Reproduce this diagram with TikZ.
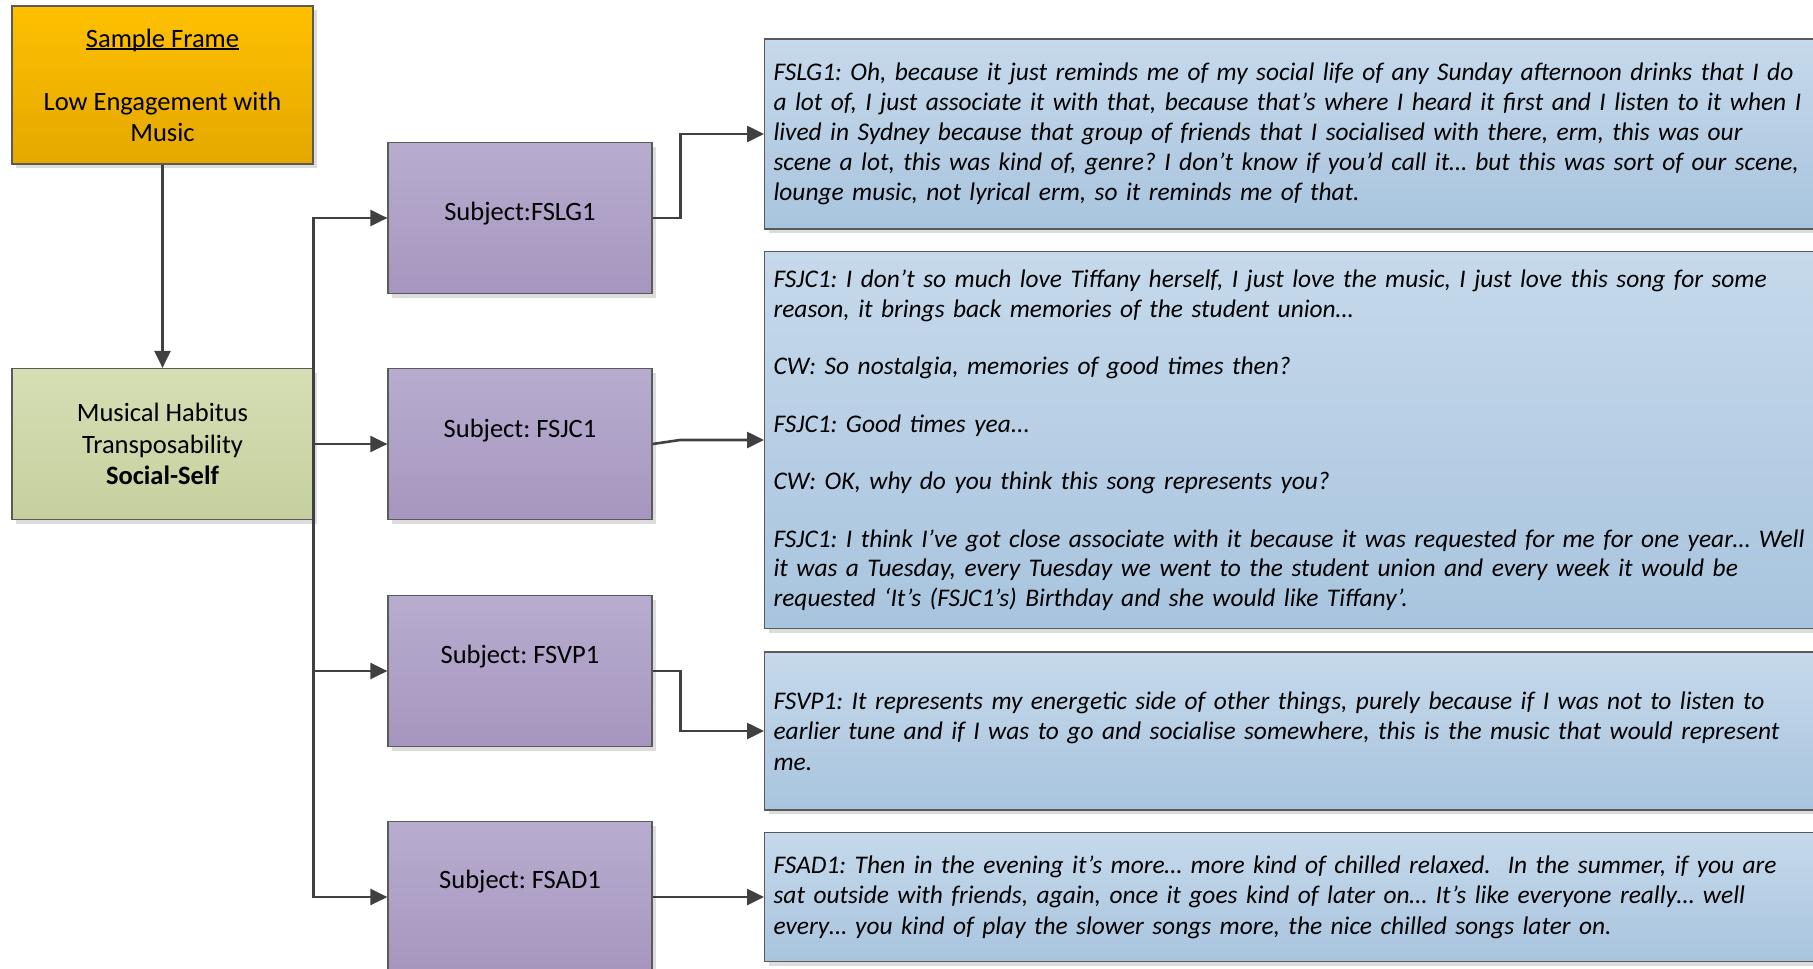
\documentclass[tikz,border=0pt]{standalone}
\usepackage{fontspec}
\setmainfont{Carlito}
\usetikzlibrary{arrows.meta,shadows}
\frenchspacing

\definecolor{boxline}{HTML}{5A5A5A}
\definecolor{shadowgray}{HTML}{DCDCDC}
\definecolor{connc}{HTML}{404040}
\definecolor{orangeT}{HTML}{FFC000}
\definecolor{orangeB}{HTML}{E4A800}
\definecolor{greenT}{HTML}{D6DEB4}
\definecolor{greenB}{HTML}{C5D09E}
\definecolor{purpleT}{HTML}{B8ACCF}
\definecolor{purpleB}{HTML}{A696BF}
\definecolor{blueT}{HTML}{C6D9EB}
\definecolor{blueB}{HTML}{A8C4DE}

\newcommand\lblfont{\fontsize{26.5}{31}\selectfont}
% italic quote text; the argument is the line spacing
\newcommand\qfont[1]{\fontsize{25.4}{#1}\selectfont\itshape}
% underline that sits just under the baseline
\newcommand\ulabel[1]{\setbox0\hbox{#1}\rlap{\rule[-2.8pt]{\wd0}{1.5pt}}\box0}

\tikzset{
  box/.style={draw=boxline, line width=1.2pt, inner sep=0pt,
    drop shadow={shadow xshift=4pt, shadow yshift=-4pt, fill=shadowgray, opacity=1}},
  framebox/.style={box, top color=orangeT, bottom color=orangeB,
    minimum width=301, minimum height=158, align=center, font=\lblfont},
  habbox/.style={box, top color=greenT, bottom color=greenB,
    minimum width=301, minimum height=151, align=center,
    font=\fontsize{26.5}{31.5}\selectfont},
  subjbox/.style={box, top color=purpleT, bottom color=purpleB,
    minimum width=264, minimum height=151},
  subjtext/.style={anchor=base, inner sep=0pt, font=\lblfont},
  quotebox/.style={box, top color=blueT, bottom color=blueB, anchor=west,
    minimum width=1076, inner xsep=9pt, text width=1058, align=left,
    font=\qfont{29.5}},
  conn/.style={draw=connc, line width=2.6pt,
    -{Triangle[length=17pt,width=16pt]}},
}

\begin{document}
\begin{tikzpicture}[x=1pt,y=-1pt]
\useasboundingbox (0,0) rectangle (1813,969);

% left column
\node[framebox] (sf) at (162.5,85)
  {\ulabel{Sample Frame}\\[32pt]Low Engagement with\\Music};
\node[habbox] (hab) at (162.5,444)
  {Musical Habitus\\Transposability\\\textbf{Social-Self}};

% subject boxes
\node[subjbox] (s1) at (520,218) {};
\node[subjbox] (s2) at (520,444) {};
\node[subjbox] (s3) at (520,671) {};
\node[subjbox] (s4) at (520,897) {};
\node[subjtext] (s1t) at (520,220) {Subject:FSLG1};
\node[subjtext] (s2t) at (520,437) {Subject: FSJC1};
\node[subjtext] (s3t) at (520,663) {Subject: FSVP1};
\node[subjtext] (s4t) at (520,888) {Subject: FSAD1};

% interview extracts
\node[quotebox, minimum height=190, font=\qfont{30}] (q1) at (764,134)
  {FSLG1: Oh, because it just reminds me of my social life of any Sunday afternoon drinks that I do\\
   a lot of, I just associate it with that, because that’s where I heard it first and I listen to it when I\\
   lived in Sydney because that group of friends that I socialised with there, erm, this was our\\
   scene a lot, this was kind of, genre? I don’t know if you’d call it… but this was sort of our scene,\\
   lounge music, not lyrical erm, so it reminds me of that.};
\node[quotebox, minimum height=377] (q2) at (764,440)
  {FSJC1: I don’t so much love Tiffany herself, I just love the music, I just love this song for some\\
   reason, it brings back memories of the student union…\\[28pt]
   CW: So nostalgia, memories of good times then?\\[28pt]
   FSJC1: Good times yea...\\[28pt]
   CW: OK, why do you think this song represents you?\\[28pt]
   FSJC1: I think I’ve got close associate with it because it was requested for me for one year… Well\\
   it was a Tuesday, every Tuesday we went to the student union and every week it would be\\
   requested ‘It’s (FSJC1’s) Birthday and she would like Tiffany’.};
\node[quotebox, minimum height=158, font=\qfont{30.5}] (q3) at (764,731)
  {FSVP1: It represents my energetic side of other things, purely because if I was not to listen to\\
   earlier tune and if I was to go and socialise somewhere, this is the music that would represent\\
   me.};
\node[quotebox, minimum height=129, font=\qfont{30.5}] (q4) at (764,897)
  {FSAD1: Then in the evening it’s more… more kind of chilled relaxed.~ In the summer, if you are\\
   sat outside with friends, again, once it goes kind of later on… It’s like everyone really… well\\
   every… you kind of play the slower songs more, the nice chilled songs later on.};

% connectors
\coordinate (j2) at (680,440);
\draw[conn] (sf.south) -- (hab.north);
\draw[conn] (hab.east) |- (s1.west);
\draw[conn] (hab.east) -- (s2.west);
\draw[conn] (hab.east) |- (s3.west);
\draw[conn] (hab.east) |- (s4.west);
\draw[conn] (s1.east) -- ++(28,0) |- (q1.west);
\draw[conn] (s2.east) -- (j2) -- (q2.west);
\draw[conn] (s3.east) -- ++(28,0) |- (q3.west);
\draw[conn] (s4.east) -- (q4.west);
\end{tikzpicture}
\end{document}
